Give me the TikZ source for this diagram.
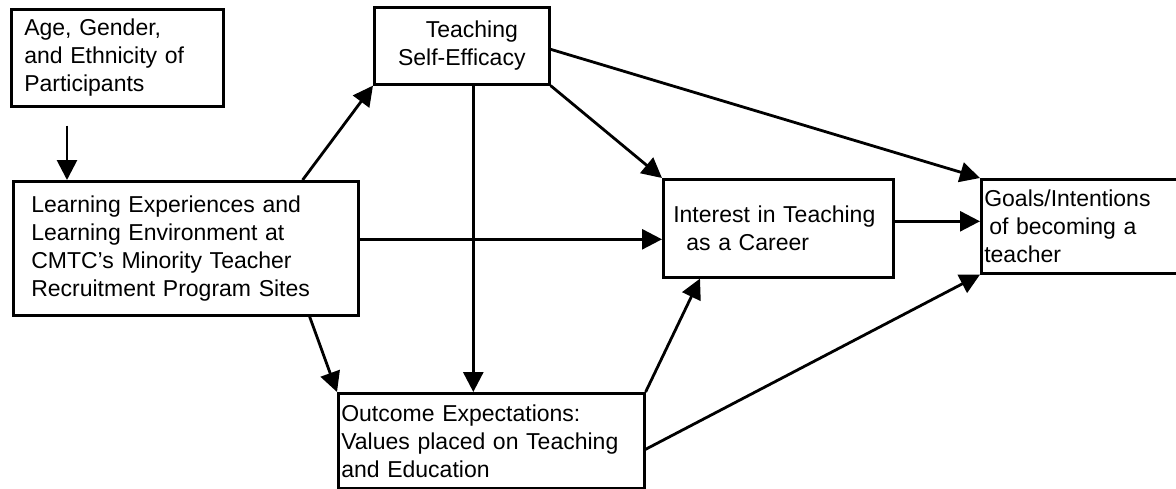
\documentclass[tikz,border=0pt]{standalone}
\usepackage{fontspec}
\setmainfont{Liberation Sans}
\usetikzlibrary{arrows.meta}
\tikzset{
  box/.style={draw, line width=2.6pt, anchor=north west, align=left,
    inner ysep=0pt, font=\fontsize{23}{28}\selectfont},
  arr/.style={line width=2.8pt, -{Triangle[length=20pt,width=20pt]}}
}
\begin{document}
\begin{tikzpicture}[x=1pt,y=-1pt]
  \useasboundingbox (0,0) rectangle (1176,488);
  % boxes
  \node[box, inner xsep=13pt, text width=186pt, minimum width=212pt, minimum height=97pt]
    (age) at (10,8) {Age, Gender,\\and Ethnicity of\\Participants};
  \node[box, inner xsep=18pt, text width=309pt, minimum width=345pt, minimum height=134pt]
    (learn) at (12,180) {Learning Experiences and\\Learning Environment at\\CMTC's Minority Teacher\\Recruitment Program Sites};
  \node[box, align=center, inner xsep=5pt, text width=165pt, minimum width=175pt, minimum height=77pt]
    (teach) at (373,6) {\hspace{20pt}Teaching\\Self-Efficacy};
  \node[box, inner xsep=10pt, text width=210pt, minimum width=230pt, minimum height=98pt]
    (interest) at (662,178) {Interest in Teaching\\\hspace{13pt}as a Career};
  \node[box, inner xsep=3pt, text width=204pt, minimum width=210pt, minimum height=94pt]
    (goals) at (980,178) {Goals/Intentions\\\hspace{5pt}of becoming a\\teacher};
  \node[box, inner xsep=3pt, text width=300pt, minimum width=306pt, minimum height=95pt]
    (outcome) at (337,392) {Outcome Expectations:\\Values placed on Teaching\\and Education};
  % paths
  \draw[arr] ([shift={(57pt,-18pt)}]age.south west) -- ([xshift=55pt]learn.north west);
  \draw[arr] ([xshift=-57pt]learn.north east) -- (teach.south west);
  \draw[arr] ([yshift=9pt]learn.east) -- ([yshift=-11pt]interest.west);
  \draw[arr] ([xshift=-50pt]learn.south east) -- (outcome.north west);
  \draw[arr] (teach.south east) -- (interest.north west);
  \draw[arr] ([yshift=-3.5pt]teach.east) -- (goals.north west);
  \draw[arr] ([xshift=11.5pt]teach.south) coordinate (ts) -- (ts |- outcome.north);
  \draw[arr] ([yshift=7pt]interest.east) -- ([yshift=7pt]interest.east -| goals.west);
  \draw[arr] (outcome.north east) -- ([xshift=38pt]interest.south west);
  \draw[arr] ([yshift=-8.5pt]outcome.east) -- (goals.south west);
\end{tikzpicture}
\end{document}
